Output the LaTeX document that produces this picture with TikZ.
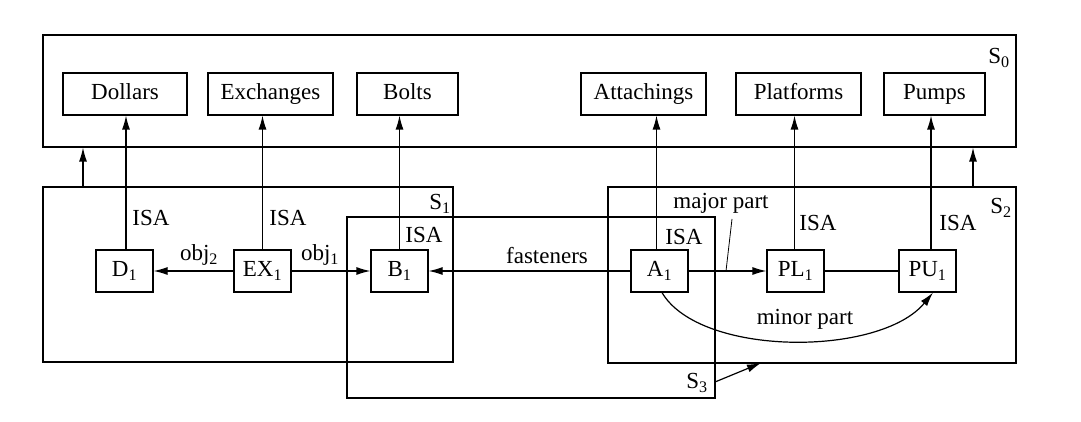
\documentclass[tikz,border=0pt]{standalone}
\usepackage{fontspec}
\setmainfont{Liberation Serif}
\usetikzlibrary{arrows.meta}
\begin{document}
\begin{tikzpicture}[x=1pt,y=-1pt,
  every node/.style={font=\fontsize{23}{27}\selectfont, inner sep=0pt},
  line width=1.2pt,
  arr/.style={-{Latex[length=14pt,width=8pt]}},
  topbox/.style={draw, minimum height=42pt, text height=15pt, text depth=4pt},
  inst/.style={draw, minimum width=57pt, minimum height=42pt, text height=15pt, text depth=4pt},
  grp/.style={draw},
  lbl/.style={anchor=center}]
\useasboundingbox (0,0) rectangle (1081,422);
% group boxes
\node[grp, minimum width=973pt, minimum height=112pt] (S0) at (529.5,91) {};
\node[grp, minimum width=410pt, minimum height=175pt] (S1) at (248,274.5) {};
\node[grp, minimum width=408pt, minimum height=176pt] (S2) at (812,275) {};
\node[grp, minimum width=368pt, minimum height=181pt] (S3) at (531,307.5) {};
\node[lbl] (S0l) at (999,58) {S\textsubscript{0}};
\node[lbl] (S1l) at (440,204) {S\textsubscript{1}};
\node[lbl] (S2l) at (1001,208) {S\textsubscript{2}};
\node[lbl] (S3l) at (697,383) {S\textsubscript{3}};
% top concept boxes
\node[topbox, minimum width=124pt] (Dol) at (125,94) {Dollars};
\node[topbox, minimum width=125pt] (Exc) at (270.5,94) {Exchanges};
\node[topbox, minimum width=101pt] (Bol) at (407.5,94) {Bolts};
\node[topbox, minimum width=125pt] (Att) at (643.5,94) {Attachings};
\node[topbox, minimum width=125pt] (Pla) at (798.5,94) {Platforms};
\node[topbox, minimum width=101pt] (Pum) at (934.5,94) {Pumps};
% instance nodes
\node[inst] (D1) at (124.5,271) {D\textsubscript{1}};
\node[inst] (EX1) at (262.5,271) {EX\textsubscript{1}};
\node[inst] (B1) at (399.5,271) {B\textsubscript{1}};
\node[inst] (A1) at (659.5,271) {A\textsubscript{1}};
\node[inst] (PL1) at (795.5,271) {PL\textsubscript{1}};
\node[inst] (PU1) at (927.5,271) {PU\textsubscript{1}};
% ISA links
\draw[arr] ([xshift=1.5pt]D1.north) -- ([xshift=1.5pt]D1.north |- Dol.south);
\draw[arr] (EX1.north) -- (EX1.north |- Exc.south);
\draw[arr] (B1.north) -- (B1.north |- Bol.south);
\draw[arr] ([xshift=-3pt]A1.north) -- ([xshift=-3pt]A1.north |- Att.south);
\draw[arr] ([xshift=-1pt]PL1.north) -- ([xshift=-1pt]PL1.north |- Pla.south);
\draw[arr] ([xshift=3.5pt]PU1.north) -- ([xshift=3.5pt]PU1.north |- Pum.south);
\node[lbl] (isa1) at (151,218) {ISA};
\node[lbl] (isa2) at (288,218) {ISA};
\node[lbl] (isa3) at (424,235) {ISA};
\node[lbl] (isa4) at (684,237) {ISA};
\node[lbl] (isa5) at (818,223) {ISA};
\node[lbl] (isa6) at (958,223) {ISA};
% group links
\draw[arr] (S1.north -| 83,0) -- (S0.south -| 83,0);
\draw[arr] (S2.north -| 973,0) -- (S0.south -| 973,0);
\coordinate (s3a) at (715,382);
\draw[arr] (s3a) -- (761,363);
% relations
\draw[arr] (EX1) -- (D1);
\node[lbl] (o2) at (199,255) {obj\textsubscript{2}};
\draw[arr] (EX1) -- (B1);
\node[lbl] (o1) at (320,255) {obj\textsubscript{1}};
\draw[arr] (A1) -- (B1);
\node[lbl] (fas) at (547,256) {fasteners};
\draw[arr] (A1) -- (PL1);
\draw (PL1) -- (PU1);
\node[lbl] (maj) at (721,203) {major part};
\coordinate (mp) at (726,271);
\coordinate (mq) at (732,219);
\draw[line width=0.8pt] (mq) -- (mp);
\draw[arr] ([xshift=2.5pt]A1.south) .. controls (700,357) and (880,357) .. ([xshift=5.5pt]PU1.south);
\node[lbl] (mnr) at (805,319) {minor part};
\end{tikzpicture}
\end{document}
